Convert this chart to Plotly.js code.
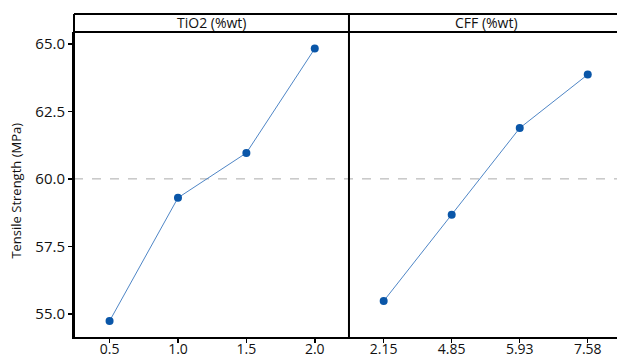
<!DOCTYPE html>
<html>
<head>
<meta charset="utf-8">
<script src="https://cdn.plot.ly/plotly-3.0.1.min.js"></script>
<style>html,body{margin:0;padding:0;background:#fff;}#chart{width:617px;height:358px;}</style>
</head>
<body>
<div id="chart"></div>
<script>
// Data
const tio2Levels = [0.5, 1.0, 1.5, 2.0];
const tio2Means = [54.74, 59.30, 60.96, 64.82];
const cffLevels = ["2.15", "4.85", "5.93", "7.58"];
const cffMeans = [55.48, 58.67, 61.88, 63.86];
const yTicks = [55.0, 57.5, 60.0, 62.5, 65.0];
const refMean = 60.0;
const panelTitles = ["TiO2 (%wt)", "CFF (%wt)"];
const yTitle = "Tensile Strength (MPa)";

const markerColor = "#0a56a8";
const lineColor = "#4f86c6";
const font = "Open Sans, Noto Sans, sans-serif";
const d1 = 0.5064;
const stripTop = 1 + 18 / 305;

const traces = [
  {x: tio2Levels, y: tio2Means, xaxis: "x", yaxis: "y", mode: "lines+markers",
   line: {color: lineColor, width: 1}, marker: {color: markerColor, size: 8}, hoverinfo: "skip"},
  {x: cffLevels, y: cffMeans, xaxis: "x2", yaxis: "y2", mode: "lines+markers",
   line: {color: lineColor, width: 1}, marker: {color: markerColor, size: 8}, hoverinfo: "skip"}
];

const axisCommon = {showline: true, linecolor: "#000", linewidth: 2, ticks: "outside", ticklen: 4,
  tickwidth: 1.5, tickcolor: "#000", showgrid: false, zeroline: false,
  tickfont: {family: font, size: 15, color: "#111"}};

const xFont = {family: font, size: 14, color: "#111"};

const layout = {
  width: 617, height: 358,
  margin: {l: 74, r: 0, t: 32, b: 21},
  paper_bgcolor: "#fff", plot_bgcolor: "#fff",
  showlegend: false,
  xaxis: Object.assign({}, axisCommon, {domain: [0, d1], range: [0.24, 2.25], tickvals: tio2Levels,
    ticktext: tio2Levels.map(v => v.toFixed(1)), anchor: "y", ticklabelstandoff: -6, tickfont: xFont}),
  xaxis2: Object.assign({}, axisCommon, {domain: [d1, 1], type: "category", categoryarray: cffLevels,
    range: [-0.51, 3.43], anchor: "y2", ticklabelstandoff: -6, tickfont: xFont}),
  yaxis: Object.assign({}, axisCommon, {range: [54.15, 65.435], tickvals: yTicks,
    ticktext: yTicks.map(v => v.toFixed(1)), anchor: "x"}),
  yaxis2: Object.assign({}, axisCommon, {range: [54.15, 65.435], showline: false, ticks: "",
    showticklabels: false, anchor: "x2", matches: "y"}),
  shapes: [
    {type: "line", xref: "paper", yref: "y", x0: 0, x1: 1, y0: refMean, y1: refMean,
     line: {color: "#aaaaaa", width: 1, dash: "dash"}, layer: "below"},
    {type: "line", xref: "paper", yref: "paper", x0: 0, x1: 1, y0: 1, y1: 1, line: {color: "#000", width: 2}},
    {type: "line", xref: "paper", yref: "paper", x0: 0, x1: 1, y0: stripTop, y1: stripTop, line: {color: "#000", width: 2}},
    {type: "line", xref: "paper", yref: "paper", x0: 0, x1: 0, y0: 0, y1: stripTop, line: {color: "#000", width: 2}},
    {type: "line", xref: "paper", yref: "paper", x0: d1, x1: d1, y0: 0, y1: stripTop, line: {color: "#000", width: 2}}
  ],
  annotations: [
    {text: panelTitles[0], xref: "paper", yref: "paper", x: d1 / 2, y: (1 + stripTop) / 2,
     xanchor: "center", yanchor: "middle", showarrow: false, font: {family: font, size: 14, color: "#111"}},
    {text: panelTitles[1], xref: "paper", yref: "paper", x: d1 + (1 - d1) * 0.5 + 0.006, y: (1 + stripTop) / 2,
     xanchor: "center", yanchor: "middle", showarrow: false, font: {family: font, size: 14, color: "#111"}},
    {text: yTitle, xref: "paper", yref: "paper", x: -58 / 543, y: 0.48, textangle: -90,
     xanchor: "center", yanchor: "middle", showarrow: false, font: {family: font, size: 13, color: "#111"}}
  ]
};

Plotly.newPlot("chart", traces, layout, {displayModeBar: false, staticPlot: true});
</script>
</body>
</html>
